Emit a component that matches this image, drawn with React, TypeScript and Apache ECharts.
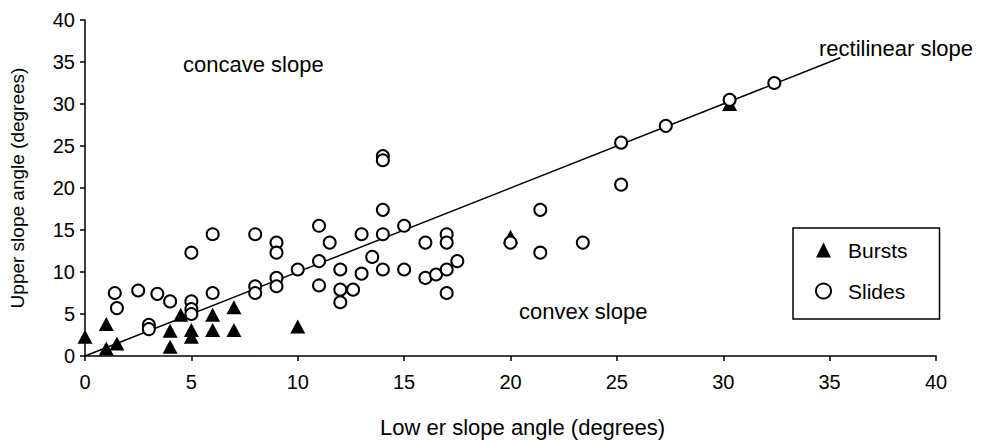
import React, { useEffect, useRef } from "react";
import * as echarts from "echarts";

const burstsX = [0, 1, 1, 1.5, 4, 4, 4.5, 5, 5, 6, 6, 7, 7, 10, 20, 30.3];
const burstsY = [2.3, 3.8, 0.9, 1.5, 3, 1.1, 4.9, 3.1, 2.3, 4.9, 3.1, 5.8, 3.1, 3.5, 14.2, 30];

const slidesX = [1.4, 1.5, 2.5, 3, 3, 3.4, 4, 5, 5, 5, 5, 6, 6, 8, 8, 8, 9, 9, 9, 9, 10, 11, 11, 11, 11.5, 12, 12, 12, 12.6, 13, 13, 13.5, 14, 14, 14, 14, 14, 15, 15, 16, 16, 16.5, 17, 17, 17, 17.5, 17, 20, 21.4, 21.4, 23.4, 25.2, 25.2, 27.3, 30.3, 32.4];
const slidesY = [7.5, 5.7, 7.8, 3.7, 3.2, 7.4, 6.5, 12.3, 6.5, 5.6, 5, 14.5, 7.5, 14.5, 8.3, 7.5, 13.5, 12.3, 9.3, 8.3, 10.3, 15.5, 11.3, 8.4, 13.5, 10.3, 7.9, 6.4, 7.9, 14.5, 9.8, 11.8, 23.8, 23.3, 17.4, 14.5, 10.3, 15.5, 10.3, 13.5, 9.3, 9.7, 14.5, 13.5, 10.3, 11.3, 7.5, 13.5, 17.4, 12.3, 13.5, 25.4, 20.4, 27.4, 30.5, 32.5];

const lineX = [0, 35.5];
const lineY = [0, 35.5];

const xTicks = [0, 5, 10, 15, 20, 25, 30, 35, 40];
const yTicks = [0, 5, 10, 15, 20, 25, 30, 35, 40];

const FONT = "'Liberation Sans', Arial, sans-serif";

export default function App() {
  const ref = useRef<HTMLDivElement>(null);
  useEffect(() => {
    if (!ref.current) return;
    const chart = echarts.init(ref.current, undefined, { renderer: "svg" });
    const zip = (xs: number[], ys: number[]) => xs.map((x, i) => [x, ys[i]]);
    const axisCommon = {
      min: 0,
      max: 40,
      interval: 5,
      axisLine: { show: true, onZero: false, lineStyle: { color: "#000", width: 1.5 } },
      axisTick: { show: true, length: 5, lineStyle: { color: "#000", width: 1.5 } },
      splitLine: { show: false },
    };
    chart.setOption({
      animation: false,
      backgroundColor: "#fff",
      grid: { left: 84, right: 45, top: 20, bottom: 87, containLabel: false },
      xAxis: {
        type: "value",
        ...axisCommon,
        axisLabel: {
          color: "#000",
          fontSize: 20,
          fontFamily: FONT,
          margin: 16,
          formatter: (v: number) => (xTicks.includes(v) ? String(v) : ""),
        },
        name: "Low er slope angle (degrees)",
        nameLocation: "middle",
        nameGap: 60,
        nameTextStyle: { color: "#000", fontSize: 22, fontFamily: FONT, padding: [0, 0, 0, 24] },
      },
      yAxis: {
        type: "value",
        ...axisCommon,
        axisLabel: {
          color: "#000",
          fontSize: 20,
          fontFamily: FONT,
          margin: 10,
          formatter: (v: number) => (yTicks.includes(v) ? String(v) : ""),
        },
        name: "Upper slope angle (degrees)",
        nameLocation: "middle",
        nameGap: 58,
        nameRotate: 90,
        nameTextStyle: { color: "#000", fontSize: 19, fontFamily: FONT },
      },
      legend: {
        orient: "vertical",
        left: 793,
        top: 228,
        borderColor: "#000",
        borderWidth: 1.5,
        padding: [10, 32, 16, 22],
        itemGap: 17,
        itemWidth: 15,
        itemHeight: 15,
        textStyle: { color: "#000", fontSize: 21, fontFamily: FONT, padding: [0, 0, 0, 12], lineHeight: 24 },
        data: ["Bursts", "Slides"],
      },
      graphic: [
        { type: "text", left: 183, top: 53, style: { text: "concave slope", fill: "#000", font: `22px ${FONT}` } },
        { type: "text", left: 519, top: 300, style: { text: "convex slope", fill: "#000", font: `22px ${FONT}` } },
        { type: "text", left: 819, top: 37, style: { text: "rectilinear slope", fill: "#000", font: `22px ${FONT}` } },
      ],
      series: [
        {
          name: "rectilinear",
          type: "line",
          data: zip(lineX, lineY),
          symbol: "none",
          lineStyle: { color: "#000", width: 1.5 },
          silent: true,
          z: 1,
        },
        {
          name: "Bursts",
          type: "scatter",
          data: zip(burstsX, burstsY),
          symbol: "triangle",
          symbolSize: [15, 14],
          itemStyle: { color: "#000", opacity: 1 },
          z: 2,
        },
        {
          name: "Slides",
          type: "scatter",
          data: zip(slidesX, slidesY),
          symbol: "circle",
          symbolSize: 12,
          itemStyle: { color: "#fff", borderColor: "#000", borderWidth: 2, opacity: 1 },
          z: 3,
        },
      ],
    });
    return () => chart.dispose();
  }, []);
  return <div ref={ref} style={{ width: 981, height: 443, position: "absolute", left: 0, top: 0 }} />;
}
